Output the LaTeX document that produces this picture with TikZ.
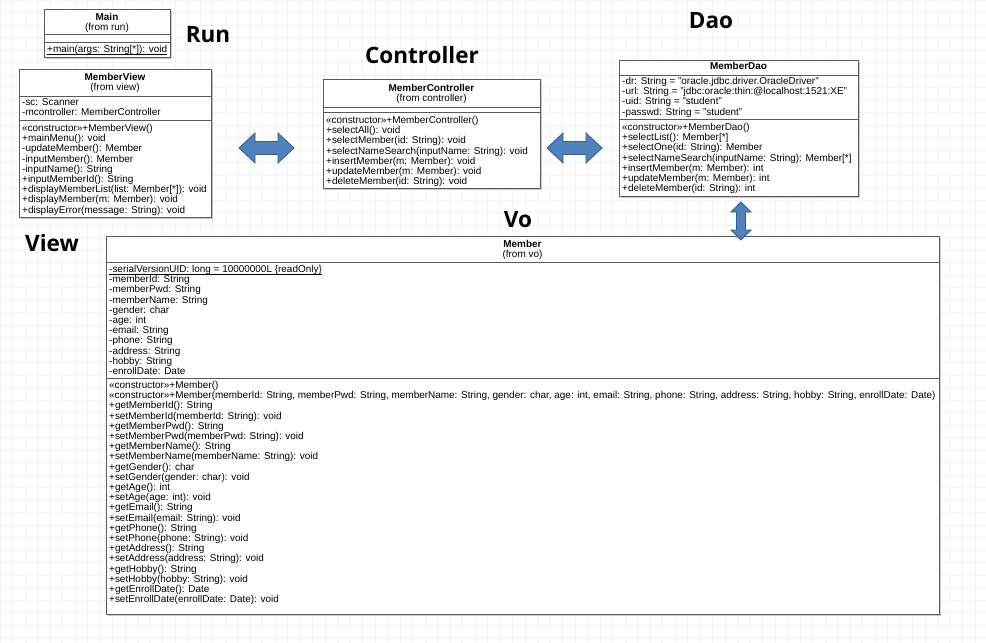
\documentclass[tikz,border=0pt]{standalone}
\usepackage{fontspec}
\setmainfont{Liberation Sans}
\newfontfamily\labelfont{Open Sans}
\usetikzlibrary{shadows}
\definecolor{gridc}{HTML}{F2F2F2}
\definecolor{boxc}{HTML}{5A5A5A}
\definecolor{arrfill}{HTML}{4F81BD}
\definecolor{arrdraw}{HTML}{385D8A}
\newcommand\ulin[1]{\underline{\raisebox{0pt}[\height][0pt]{#1}}}
\tikzset{
 umlbox/.style={draw=boxc, line width=0.9pt, fill=white, drop shadow={shadow xshift=1.5pt, shadow yshift=-1.5pt, fill=black, opacity=0.2}},
 sepline/.style={draw=boxc, line width=0.9pt},
 memb/.style={anchor=north west, inner sep=0pt, align=left, font=\fontsize{9.95}{10.2}\selectfont},
 ttl/.style={anchor=north, inner sep=0pt, align=center, font=\fontsize{9.95}{10.2}\selectfont},
 biglabel/.style={font=\labelfont\bfseries\fontsize{22.5}{24}\selectfont, inner sep=0pt},
 blockarrow/.style={fill=arrfill, draw=arrdraw, line width=0.8pt, line join=miter}
}
\begin{document}
\begin{tikzpicture}[x=1pt,y=-1pt]
\useasboundingbox (0,0) rectangle (986,643);
\fill[white] (0,0) rectangle (986,643);
\foreach \i in {0,12.5,...,986} \draw[gridc, line width=0.5pt] (\i,0) -- (\i,643);
\foreach \j in {0,12.5,...,643} \draw[gridc, line width=0.5pt] (0,\j) -- (986,\j);

% ---------- Main ----------
\path[umlbox] (44,9) rectangle (170,57);
\draw[sepline] (44,34) -- (170,34);
\draw[sepline] (44,42) -- (170,42);
\node[ttl] (mainT) at (107,13) {\textbf{Main}\\(from run)};
\node[memb] (mainM) at (47,45) {\ulin{+main(args: String[*]): void}};

% ---------- MemberView ----------
\path[umlbox] (19,69) rectangle (211,217);
\draw[sepline] (19,96) -- (211,96);
\draw[sepline] (19,120) -- (211,120);
\node[ttl] (viewT) at (115,73) {\textbf{MemberView}\\(from view)};
\node[memb] (viewA) at (22,98) {-sc: Scanner\\-mcontroller: MemberController};
\node[memb] (viewM) at (22,124) {«constructor»+MemberView()\\+mainMenu(): void\\-updateMember(): Member\\-inputMember(): Member\\-inputName(): String\\+inputMemberId(): String\\+displayMemberList(list: Member[*]): void\\+displayMember(m: Member): void\\+displayError(message: String): void};

% ---------- MemberController ----------
\path[umlbox] (323,79) rectangle (540,188);
\draw[sepline] (323,107) -- (540,107);
\draw[sepline] (323,112) -- (540,112);
\node[ttl] (ctrlT) at (431.5,84) {\textbf{MemberController}\\(from controller)};
\node[memb] (ctrlM) at (326,116) {«constructor»+MemberController()\\+selectAll(): void\\+selectMember(id: String): void\\+selectNameSearch(inputName: String): void\\+insertMember(m: Member): void\\+updateMember(m: Member): void\\+deleteMember(id: String): void};

% ---------- MemberDao ----------
\path[umlbox] (619,60) rectangle (858,196);
\draw[sepline] (619,75) -- (858,75);
\draw[sepline] (619,119) -- (858,119);
\node[ttl] (daoT) at (738.5,62) {\textbf{MemberDao}};
\node[memb] (daoA) at (622,77) {-dr: String = "oracle.jdbc.driver.OracleDriver"\\-url: String = "jdbc:oracle:thin:@localhost:1521:XE"\\-uid: String = "student"\\-passwd: String = "student"};
\node[memb] (daoM) at (622,123) {«constructor»+MemberDao()\\+selectList(): Member[*]\\+selectOne(id: String): Member\\+selectNameSearch(inputName: String): Member[*]\\+insertMember(m: Member): int\\+updateMember(m: Member): int\\+deleteMember(id: String): int};

% ---------- Member ----------
\path[umlbox] (106,236) rectangle (939,614);
\draw[sepline] (106,262) -- (939,262);
\draw[sepline] (106,378) -- (939,378);
\node[ttl] (voT) at (522.5,240) {\textbf{Member}\\(from vo)};
\node[memb] (voA) at (109,265) {\ulin{-serialVersionUID: long = 10000000L \{readOnly\}}\\-memberId: String\\-memberPwd: String\\-memberName: String\\-gender: char\\-age: int\\-email: String\\-phone: String\\-address: String\\-hobby: String\\-enrollDate: Date};
\node[memb] (voM) at (109,381) {«constructor»+Member()\\«constructor»+Member(memberId: String, memberPwd: String, memberName: String, gender: char, age: int, email: String, phone: String, address: String, hobby: String, enrollDate: Date)\\+getMemberId(): String\\+setMemberId(memberId: String): void\\+getMemberPwd(): String\\+setMemberPwd(memberPwd: String): void\\+getMemberName(): String\\+setMemberName(memberName: String): void\\+getGender(): char\\+setGender(gender: char): void\\+getAge(): int\\+setAge(age: int): void\\+getEmail(): String\\+setEmail(email: String): void\\+getPhone(): String\\+setPhone(phone: String): void\\+getAddress(): String\\+setAddress(address: String): void\\+getHobby(): String\\+setHobby(hobby: String): void\\+getEnrollDate(): Date\\+setEnrollDate(enrollDate: Date): void};

% ---------- package labels ----------
\node[biglabel] (lblRun) at (208,35) {Run};
\node[biglabel] (lblCtrl) at (422,55) {Controller};
\node[biglabel] (lblDao) at (711,21) {Dao};
\node[biglabel] (lblVo) at (518,220) {Vo};
\node[biglabel] (lblView) at (52,243) {View};

% ---------- block double arrows ----------
\coordinate (arrVC) at (266.5,148);
\coordinate (arrCD) at (574.5,148);
\coordinate (arrDV) at (741,221);
\foreach \c in {arrVC,arrCD}{
  \draw[blockarrow, shift={(\c)}] (-27.5,0) -- (-11.5,-15) -- (-11.5,-6.5) -- (11.5,-6.5) -- (11.5,-15) -- (27.5,0) -- (11.5,15) -- (11.5,6.5) -- (-11.5,6.5) -- (-11.5,15) -- cycle;
}
\draw[blockarrow, shift={(arrDV)}] (0,-19) -- (10,-9) -- (4.5,-9) -- (4.5,9) -- (10,9) -- (0,19) -- (-10,9) -- (-4.5,9) -- (-4.5,-9) -- (-10,-9) -- cycle;
\end{tikzpicture}
\end{document}
